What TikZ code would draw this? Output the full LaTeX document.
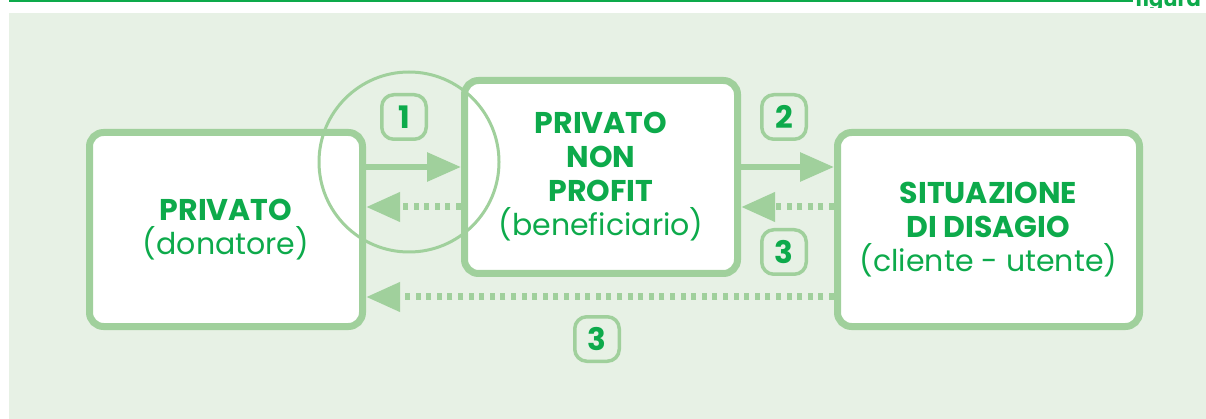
\documentclass[tikz,border=0pt]{standalone}
\usepackage{fontspec}
\setmainfont{Poppins}
\usetikzlibrary{arrows.meta}
\definecolor{txtgreen}{RGB}{13,170,75}
\definecolor{linegreen}{RGB}{160,208,156}
\definecolor{bggreen}{RGB}{231,241,229}
\tikzset{
  party/.style={draw=linegreen,line width=7pt,fill=white,rounded corners=14pt,text=txtgreen,align=center,inner sep=0pt,font=\fontsize{30}{34}\selectfont},
  badge/.style={draw=linegreen,line width=3.5pt,rounded corners=12pt,minimum size=44.5pt,inner sep=0pt,text=txtgreen,font=\bfseries\fontsize{31}{31}\selectfont},
  flow/.style={linegreen,line width=6pt,-{Triangle[length=34pt,width=28pt]}},
  backflow/.style={linegreen,line width=7pt,dash pattern=on 5pt off 5.6pt,-{Triangle[length=34pt,width=28pt]}}
}
\begin{document}
\begin{tikzpicture}[x=1pt,y=-1pt]
\useasboundingbox (0,0) rectangle (1206,419);
\fill[bggreen] (9,13) rectangle (1206,419);
\draw[txtgreen,line width=3pt] (9,1) -- (1133,1);
\begin{scope}
\clip (1135,0) rectangle (1206,8);
\node[anchor=base east,inner sep=0pt,text=txtgreen,font=\bfseries\fontsize{21}{21}\selectfont] (tab) at (1201,7) {figura};
\end{scope}
\node[party,minimum width=273pt,minimum height=194pt] (donatore) at (226,229.5) {\textbf{PRIVATO}\\(donatore)};
\node[party,minimum width=273pt,minimum height=193pt] (nonprofit) at (601,177) {\textbf{PRIVATO}\\\textbf{NON}\\\textbf{PROFIT}\\(beneficiario)};
\node[party,minimum width=302pt,minimum height=194pt] (disagio) at (988.5,229.5) {\textbf{SITUAZIONE}\\\textbf{DI DISAGIO}\\(cliente - utente)};
\coordinate (lvA) at (0,167);
\coordinate (lvB) at (0,207);
\coordinate (lvC) at (0,297);
\draw[flow] (donatore.east |- lvA) -- (nonprofit.west |- lvA);
\draw[backflow] (nonprofit.west |- lvB) -- (donatore.east |- lvB);
\draw[flow] (nonprofit.east |- lvA) -- (disagio.west |- lvA);
\draw[backflow] (disagio.west |- lvB) -- (nonprofit.east |- lvB);
\draw[backflow] (disagio.west |- lvC) -- (donatore.east |- lvC);
\draw[linegreen,line width=3pt] (409,162) circle[radius=90];
\node[badge] (n1) at (404,117) {1};
\node[badge] (n2) at (784,117) {2};
\node[badge] (n3a) at (784,252) {3};
\node[badge] (n3b) at (597,339) {3};
\end{tikzpicture}
\end{document}
